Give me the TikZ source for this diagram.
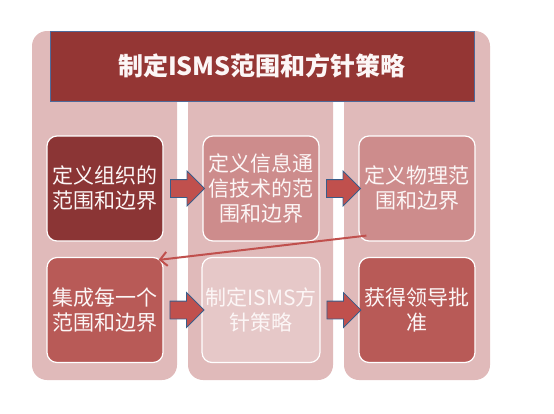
\documentclass[tikz,border=0pt]{standalone}
\usepackage{fontspec}
\newfontfamily\cjk{Noto Sans CJK SC}
\usetikzlibrary{shapes.arrows,calc,arrows.meta}
\definecolor{bgcol}{HTML}{E0BABA}
\definecolor{titlecol}{HTML}{943634}
\definecolor{titleedge}{HTML}{4F6A9A}
\definecolor{darkred}{HTML}{8B3535}
\definecolor{midred}{HTML}{B85A57}
\definecolor{pinkred}{HTML}{CD8C8C}
\definecolor{lightpink}{HTML}{E6C8C8}
\definecolor{arrowfill}{HTML}{C0504D}
\definecolor{arrowedge}{HTML}{385D8A}
\definecolor{txt}{HTML}{FCF6F6}
\begin{document}
\begin{tikzpicture}[x=1pt,y=-1pt,
  column/.style={fill=bgcol, rounded corners=15pt},
  titlebox/.style={fill=titlecol, draw=titleedge, line width=1pt, minimum width=424pt, minimum height=70pt, text=txt, font=\cjk\bfseries\fontsize{25}{28}\selectfont},
  stepbox/.style={draw=white, line width=1.2pt, rounded corners=10pt, minimum width=116pt, minimum height=105pt, text=txt, align=center, font=\cjk\fontsize{21}{25}\selectfont},
  barrow/.style={single arrow, fill=arrowfill, draw=arrowedge, line width=0.8pt, minimum height=34pt, minimum width=34pt, inner sep=0pt, inner ysep=8.5pt, single arrow head extend=8.5pt},
  diag/.style={draw=arrowfill, line width=2pt, -{Straight Barb[length=7pt,width=14pt]}}
]
\useasboundingbox (0,0) rectangle (554,413);
\fill[column] (32,31) rectangle (177,380);
\fill[column] (188,31) rectangle (333,380);
\fill[column] (344,31) rectangle (490,380);
\node[titlebox] (title) at (262,66) {制定ISMS范围和方针策略};
\node[stepbox, fill=darkred] (t1) at (105,188.5) {定义组织的\\范围和边界};
\node[stepbox, fill=pinkred] (t2) at (261,188.5) {定义信息通\\信技术的范\\围和边界};
\node[stepbox, fill=pinkred] (t3) at (417,188.5) {定义物理范\\围和边界};
\node[stepbox, fill=midred] (b1) at (105,310) {集成每一个\\范围和边界};
\node[stepbox, fill=lightpink] (b2) at (261,310) {制定ISMS方\\针策略};
\node[stepbox, fill=midred] (b3) at (417,310) {获得领导批\\准};
\node[barrow] (a1) at ($(t1.east)!0.5!(t2.west)$) {};
\node[barrow] (a2) at ($(t2.east)!0.5!(t3.west)$) {};
\node[barrow] (a3) at ($(b1.east)!0.5!(b2.west)$) {};
\node[barrow] (a4) at ($(b2.east)!0.5!(b3.west)$) {};
\draw[diag] ($(t3.south west)+(8,-6)$) -- ($(b1.north east)+(-5,3)$);
\end{tikzpicture}
\end{document}
